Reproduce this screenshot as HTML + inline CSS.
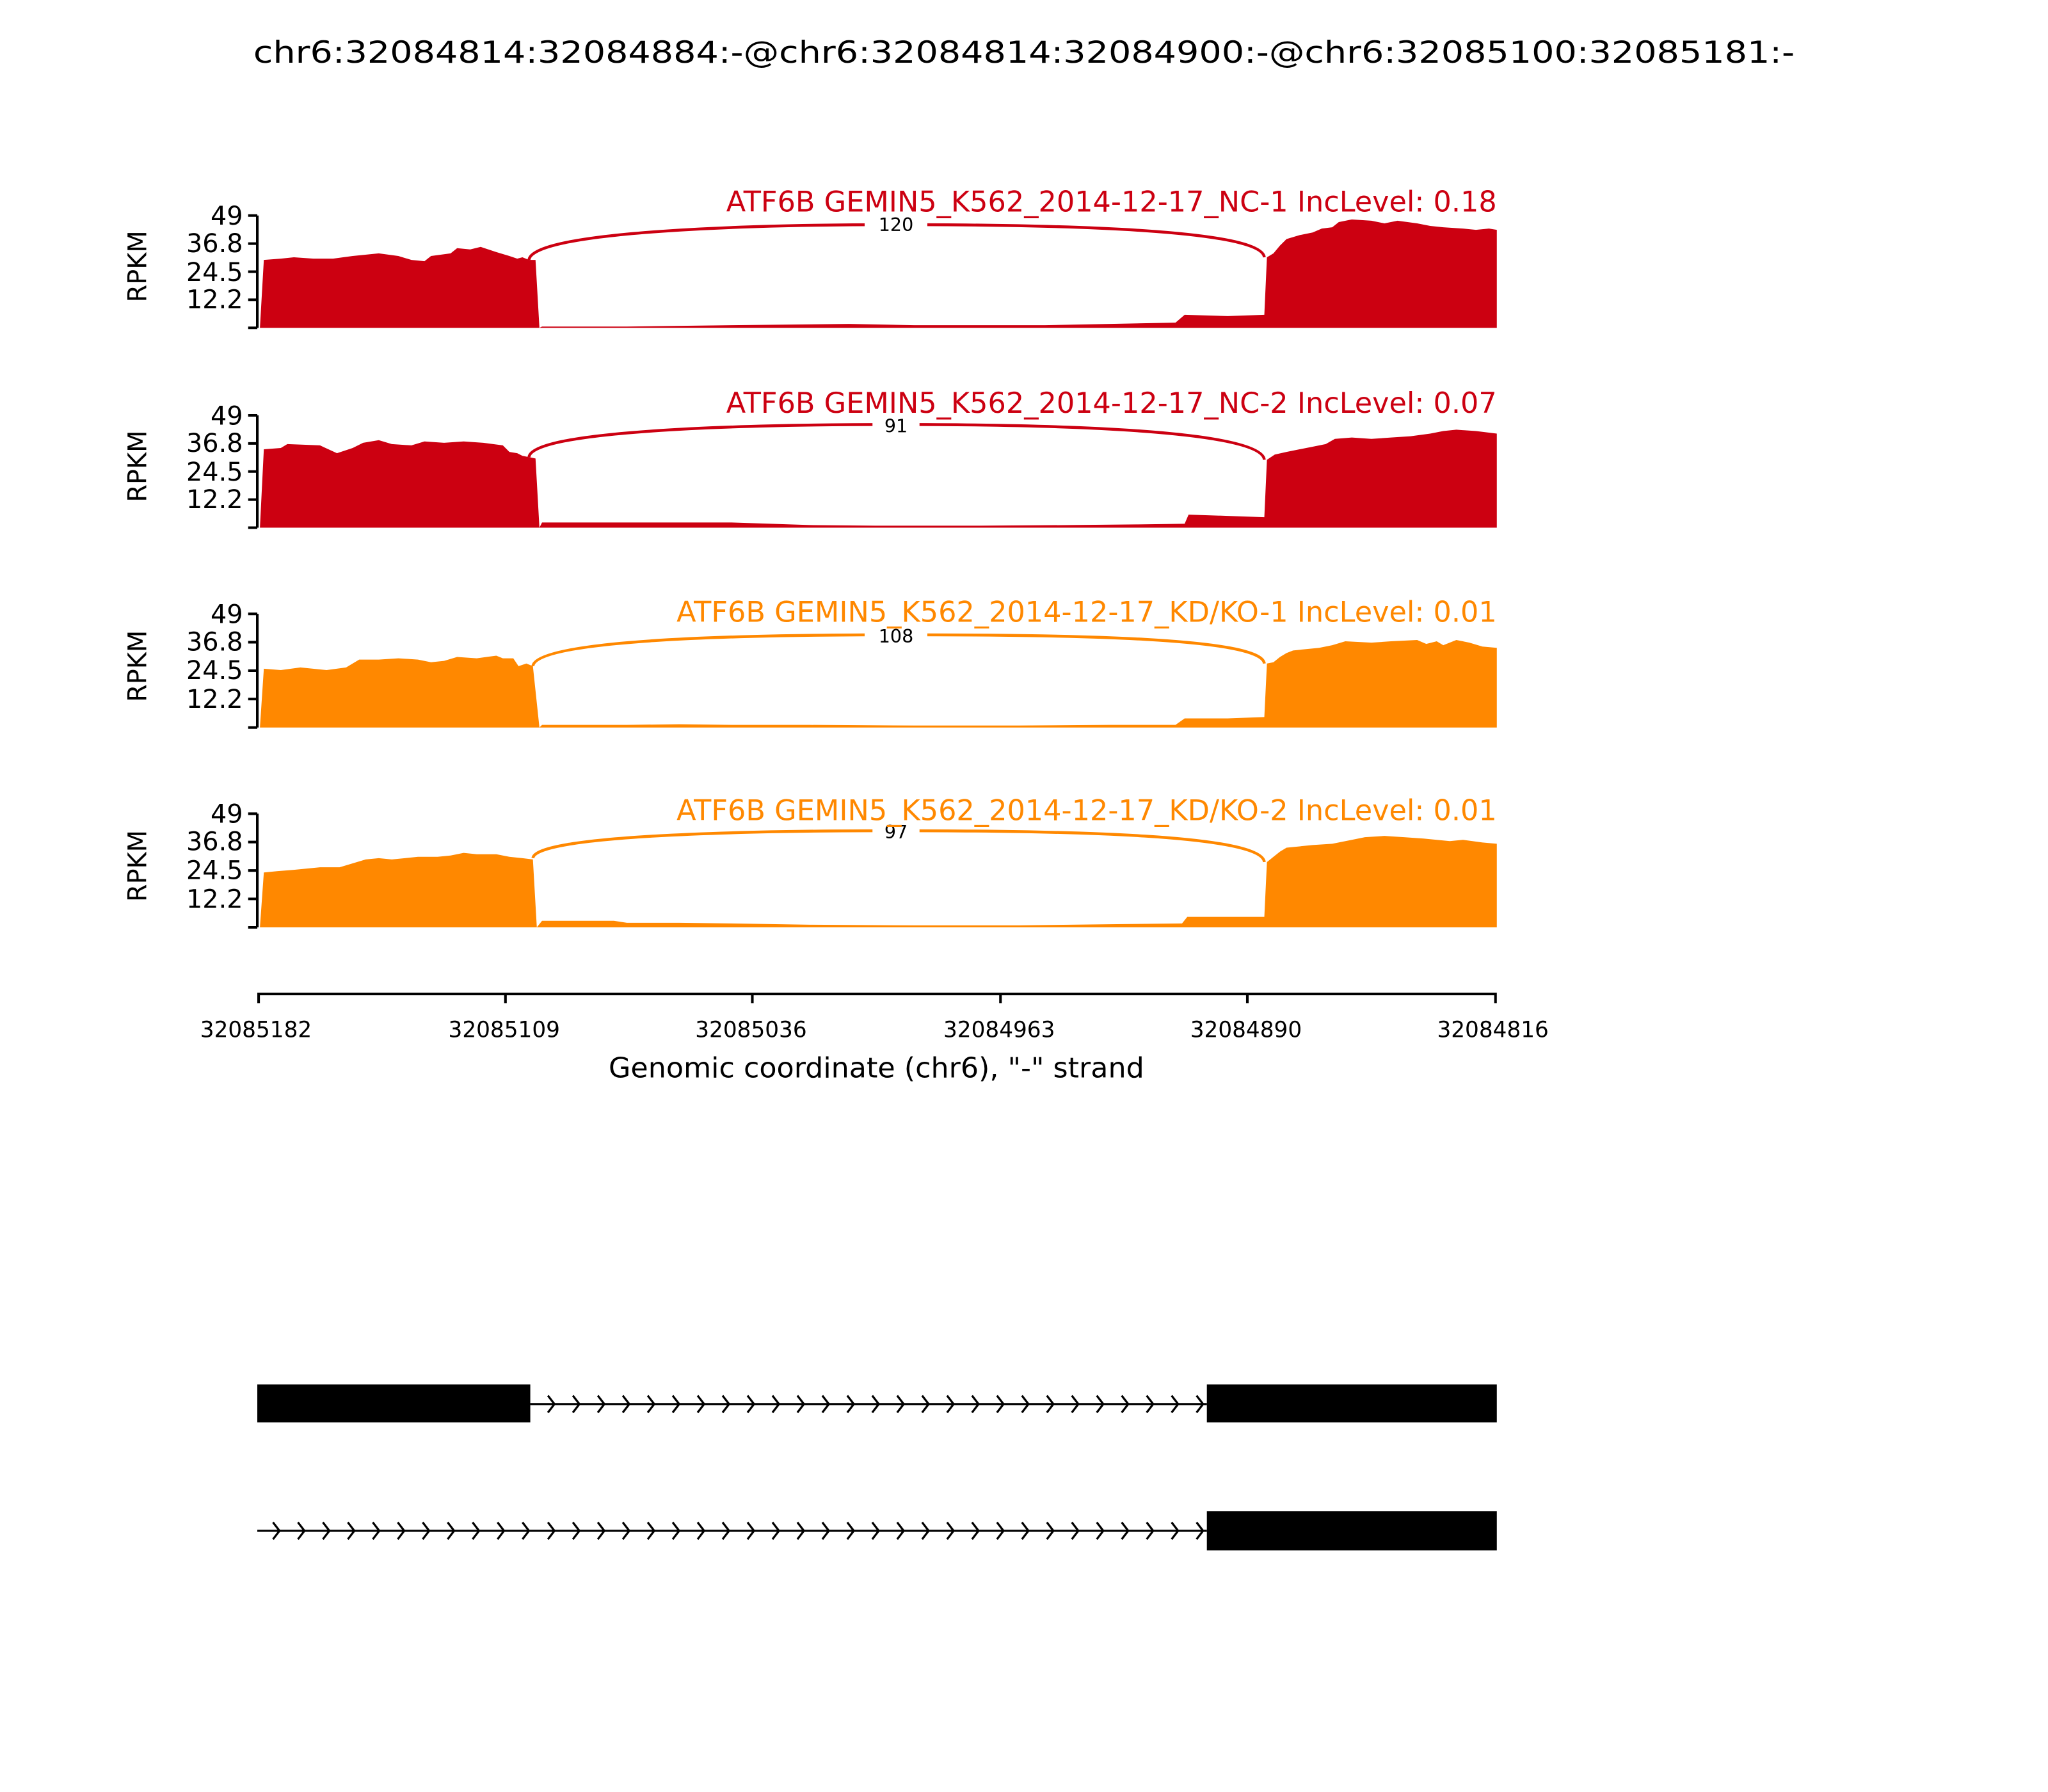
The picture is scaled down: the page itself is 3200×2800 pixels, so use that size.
<!DOCTYPE html>
<html><head><meta charset="utf-8"><style>
html,body{margin:0;padding:0;background:#fff}
svg{display:block}
text{font-family:"DejaVu Sans","Liberation Sans",sans-serif}
</style></head><body>
<svg width="3200" height="2800" viewBox="0 0 1568 1372" xmlns="http://www.w3.org/2000/svg">
<rect width="1568" height="1372" fill="#fff"/>
<text x="784" y="48" font-size="23" text-anchor="middle" textLength="1180" lengthAdjust="spacingAndGlyphs">chr6:32084814:32084884:-@chr6:32084814:32084900:-@chr6:32085100:32085181:-</text>

<!-- Panel 1 -->
<g>
<polygon fill="#cc0011" points="199,251 202,199 215,198 225,197 240,198 255,198 270,196 290,194 305,196 315,199 325,200 330,196 345,194 350,190 360,191 368,189 380,193 390,196 396,198 400,197 405,199 410,199 413,251 415,250 480,250 560,249 650,248 700,249 750,249 800,249 850,248 900,247 907,241 940,242 968,241 970,197 975,194 980,188 985,183 995,180 1005,178 1012,175 1020,174 1025,170 1035,168 1050,169 1060,171 1070,169 1085,171 1095,173 1105,174 1120,175 1130,176 1140,175 1146,176 1146,251"/>
<path d="M405,199 C407,178 560,172 686,172 C820,172 966,176 968,197" fill="none" stroke="#cc0011" stroke-width="2.2"/>
<rect x="662" y="164" width="48" height="15" fill="#fff"/>
<text x="686" y="177" font-size="14" text-anchor="middle">120</text>
<text x="1146" y="162" font-size="21.8" fill="#cc0011" text-anchor="end" textLength="590" lengthAdjust="spacingAndGlyphs">ATF6B GEMIN5_K562_2014-12-17_NC-1 IncLevel: 0.18</text>
</g>

<!-- Panel 2 -->
<g>
<polygon fill="#cc0011" points="199,404 202,344 215,343 220,340 245,341 258,347 270,343 278,339 290,337 300,340 315,341 325,338 340,339 355,338 370,339 385,341 390,346 396,347 400,349 405,350 410,351 413,404 415,400 480,400 560,400 590,401 620,402 670,402.5 750,402.5 820,402 870,401.5 907,401 910,394 940,395 968,396 970,352 976,348 985,346 995,344 1005,342 1015,340 1022,336 1035,335 1050,336 1065,335 1080,334 1095,332 1105,330 1115,329 1130,330 1146,332 1146,404"/>
<path d="M405,350 C407,330 560,325 686,325 C820,325 966,330 968,352" fill="none" stroke="#cc0011" stroke-width="2.2"/>
<rect x="668" y="318" width="36" height="15" fill="#fff"/>
<text x="686" y="331" font-size="14" text-anchor="middle">91</text>
<text x="1146" y="316" font-size="21.8" fill="#cc0011" text-anchor="end" textLength="590" lengthAdjust="spacingAndGlyphs">ATF6B GEMIN5_K562_2014-12-17_NC-2 IncLevel: 0.07</text>
</g>

<!-- Panel 3 -->
<g>
<polygon fill="#ff8800" points="199,557 202,512 215,513 230,511 250,513 265,511 275,505 290,505 305,504 320,505 330,507 340,506 350,503 365,504 380,502 385,504 393,504 397,510 403,508 408,510 413,557 415,555 480,555 520,554.5 560,555 620,555 700,555.5 780,555.5 850,555 900,555 907,550 940,550 968,549 970,508 975,507 980,503 985,500 990,498 1000,497 1010,496 1020,494 1030,491 1050,492 1065,491 1085,490 1092,493 1100,491 1105,494 1115,490 1125,492 1135,495 1146,496 1146,557"/>
<path d="M408,510 C410,490 560,486 686,486 C820,486 966,488 968,508" fill="none" stroke="#ff8800" stroke-width="2.2"/>
<rect x="662" y="479" width="48" height="15" fill="#fff"/>
<text x="686" y="492" font-size="14" text-anchor="middle">108</text>
<text x="1146" y="476" font-size="21.8" fill="#ff8800" text-anchor="end" textLength="628" lengthAdjust="spacingAndGlyphs">ATF6B GEMIN5_K562_2014-12-17_KD/KO-1 IncLevel: 0.01</text>
</g>

<!-- Panel 4 -->
<g>
<polygon fill="#ff8800" points="199,710 202,668 212,667 225,666 245,664 260,664 270,661 280,658 290,657 300,658 310,657 320,656 335,656 345,655 355,653 365,654 380,654 390,656 400,657 408,658 411,710 415,705 470,705 480,706.5 520,706.5 560,707 620,708 700,708.5 780,708.5 860,707.5 905,707 909,702 940,702 968,702 970,660 975,656 980,652 985,649 995,648 1005,647 1020,646 1035,643 1045,641 1060,640 1075,641 1090,642 1100,643 1110,644 1120,643 1135,645 1146,646 1146,710"/>
<path d="M408,657 C410,640 560,636 686,636 C820,636 966,639 968,660" fill="none" stroke="#ff8800" stroke-width="2.2"/>
<rect x="668" y="629" width="36" height="15" fill="#fff"/>
<text x="686" y="642" font-size="14" text-anchor="middle">97</text>
<text x="1146" y="628" font-size="21.8" fill="#ff8800" text-anchor="end" textLength="628" lengthAdjust="spacingAndGlyphs">ATF6B GEMIN5_K562_2014-12-17_KD/KO-2 IncLevel: 0.01</text>
</g>

<!-- Y axes -->
<g stroke="#000" stroke-width="2" fill="none">
<path d="M197,165V251 M190,165H197 M190,186.5H197 M190,208H197 M190,229.5H197 M190,251H197"/>
<path d="M197,318V404 M190,318H197 M190,339.5H197 M190,361H197 M190,382.5H197 M190,404H197"/>
<path d="M197,470V557 M190,470H197 M190,491.7H197 M190,513.5H197 M190,535.2H197 M190,557H197"/>
<path d="M197,623V710 M190,623H197 M190,644.7H197 M190,666.5H197 M190,688.2H197 M190,710H197"/>
</g>
<g font-size="19.5" text-anchor="end">
<text x="186" y="172">49</text><text x="186" y="193">36.8</text><text x="186" y="215">24.5</text><text x="186" y="236">12.2</text>
<text x="186" y="325">49</text><text x="186" y="346">36.8</text><text x="186" y="368">24.5</text><text x="186" y="389">12.2</text>
<text x="186" y="477">49</text><text x="186" y="498">36.8</text><text x="186" y="520">24.5</text><text x="186" y="542">12.2</text>
<text x="186" y="630">49</text><text x="186" y="651">36.8</text><text x="186" y="673">24.5</text><text x="186" y="695">12.2</text>
</g>
<g font-size="19.5" text-anchor="middle">
<text transform="translate(112,204) rotate(-90)">RPKM</text>
<text transform="translate(112,357) rotate(-90)">RPKM</text>
<text transform="translate(112,510) rotate(-90)">RPKM</text>
<text transform="translate(112,663) rotate(-90)">RPKM</text>
</g>

<!-- X axis -->
<g stroke="#000" stroke-width="2" fill="none">
<path d="M197,761H1146 M198,761V768 M387,761V768 M576,761V768 M766,761V768 M955,761V768 M1145,761V768"/>
</g>
<g font-size="16.8" text-anchor="middle">
<text x="196" y="794">32085182</text><text x="386" y="794">32085109</text><text x="575" y="794">32085036</text>
<text x="765" y="794">32084963</text><text x="954" y="794">32084890</text><text x="1143" y="794">32084816</text>
</g>
<text x="671" y="825" font-size="21.5" text-anchor="middle" textLength="410" lengthAdjust="spacingAndGlyphs">Genomic coordinate (chr6), "-" strand</text>

<!-- Gene models -->
<rect x="197" y="1060" width="209" height="29" fill="#000"/>
<rect x="924" y="1060" width="222" height="29" fill="#000"/>
<path d="M406,1075H924" stroke="#000" stroke-width="1.6"/>
<rect x="924" y="1157" width="222" height="30" fill="#000"/>
<path d="M197,1172H924" stroke="#000" stroke-width="1.6"/>
<g stroke="#000" stroke-width="1.6" fill="none">
<path d="M419.5,1068.5L424.5,1075L419.5,1081.5 M438.6,1068.5L443.6,1075L438.6,1081.5 M457.7,1068.5L462.7,1075L457.7,1081.5 M476.8,1068.5L481.8,1075L476.8,1081.5 M495.9,1068.5L500.9,1075L495.9,1081.5 M515,1068.5L520,1075L515,1081.5 M534.1,1068.5L539.1,1075L534.1,1081.5 M553.2,1068.5L558.2,1075L553.2,1081.5 M572.3,1068.5L577.3,1075L572.3,1081.5 M591.4,1068.5L596.4,1075L591.4,1081.5 M610.5,1068.5L615.5,1075L610.5,1081.5 M629.6,1068.5L634.6,1075L629.6,1081.5 M648.7,1068.5L653.7,1075L648.7,1081.5 M667.8,1068.5L672.8,1075L667.8,1081.5 M686.9,1068.5L691.9,1075L686.9,1081.5 M706,1068.5L711,1075L706,1081.5 M725.1,1068.5L730.1,1075L725.1,1081.5 M744.2,1068.5L749.2,1075L744.2,1081.5 M763.3,1068.5L768.3,1075L763.3,1081.5 M782.4,1068.5L787.4,1075L782.4,1081.5 M801.5,1068.5L806.5,1075L801.5,1081.5 M820.6,1068.5L825.6,1075L820.6,1081.5 M839.7,1068.5L844.7,1075L839.7,1081.5 M858.8,1068.5L863.8,1075L858.8,1081.5 M877.9,1068.5L882.9,1075L877.9,1081.5 M897,1068.5L902,1075L897,1081.5 M916.1,1068.5L921.1,1075L916.1,1081.5"/>
<path d="M209,1165.5L214,1172L209,1178.5 M228.1,1165.5L233.1,1172L228.1,1178.5 M247.2,1165.5L252.2,1172L247.2,1178.5 M266.3,1165.5L271.3,1172L266.3,1178.5 M285.4,1165.5L290.4,1172L285.4,1178.5 M304.5,1165.5L309.5,1172L304.5,1178.5 M323.6,1165.5L328.6,1172L323.6,1178.5 M342.7,1165.5L347.7,1172L342.7,1178.5 M361.8,1165.5L366.8,1172L361.8,1178.5 M380.9,1165.5L385.9,1172L380.9,1178.5 M400,1165.5L405,1172L400,1178.5 M419.5,1165.5L424.5,1172L419.5,1178.5 M438.6,1165.5L443.6,1172L438.6,1178.5 M457.7,1165.5L462.7,1172L457.7,1178.5 M476.8,1165.5L481.8,1172L476.8,1178.5 M495.9,1165.5L500.9,1172L495.9,1178.5 M515,1165.5L520,1172L515,1178.5 M534.1,1165.5L539.1,1172L534.1,1178.5 M553.2,1165.5L558.2,1172L553.2,1178.5 M572.3,1165.5L577.3,1172L572.3,1178.5 M591.4,1165.5L596.4,1172L591.4,1178.5 M610.5,1165.5L615.5,1172L610.5,1178.5 M629.6,1165.5L634.6,1172L629.6,1178.5 M648.7,1165.5L653.7,1172L648.7,1178.5 M667.8,1165.5L672.8,1172L667.8,1178.5 M686.9,1165.5L691.9,1172L686.9,1178.5 M706,1165.5L711,1172L706,1178.5 M725.1,1165.5L730.1,1172L725.1,1178.5 M744.2,1165.5L749.2,1172L744.2,1178.5 M763.3,1165.5L768.3,1172L763.3,1178.5 M782.4,1165.5L787.4,1172L782.4,1178.5 M801.5,1165.5L806.5,1172L801.5,1178.5 M820.6,1165.5L825.6,1172L820.6,1178.5 M839.7,1165.5L844.7,1172L839.7,1178.5 M858.8,1165.5L863.8,1172L858.8,1178.5 M877.9,1165.5L882.9,1172L877.9,1178.5 M897,1165.5L902,1172L897,1178.5 M916.1,1165.5L921.1,1172L916.1,1178.5"/>
</g>
</svg>
</body></html>
